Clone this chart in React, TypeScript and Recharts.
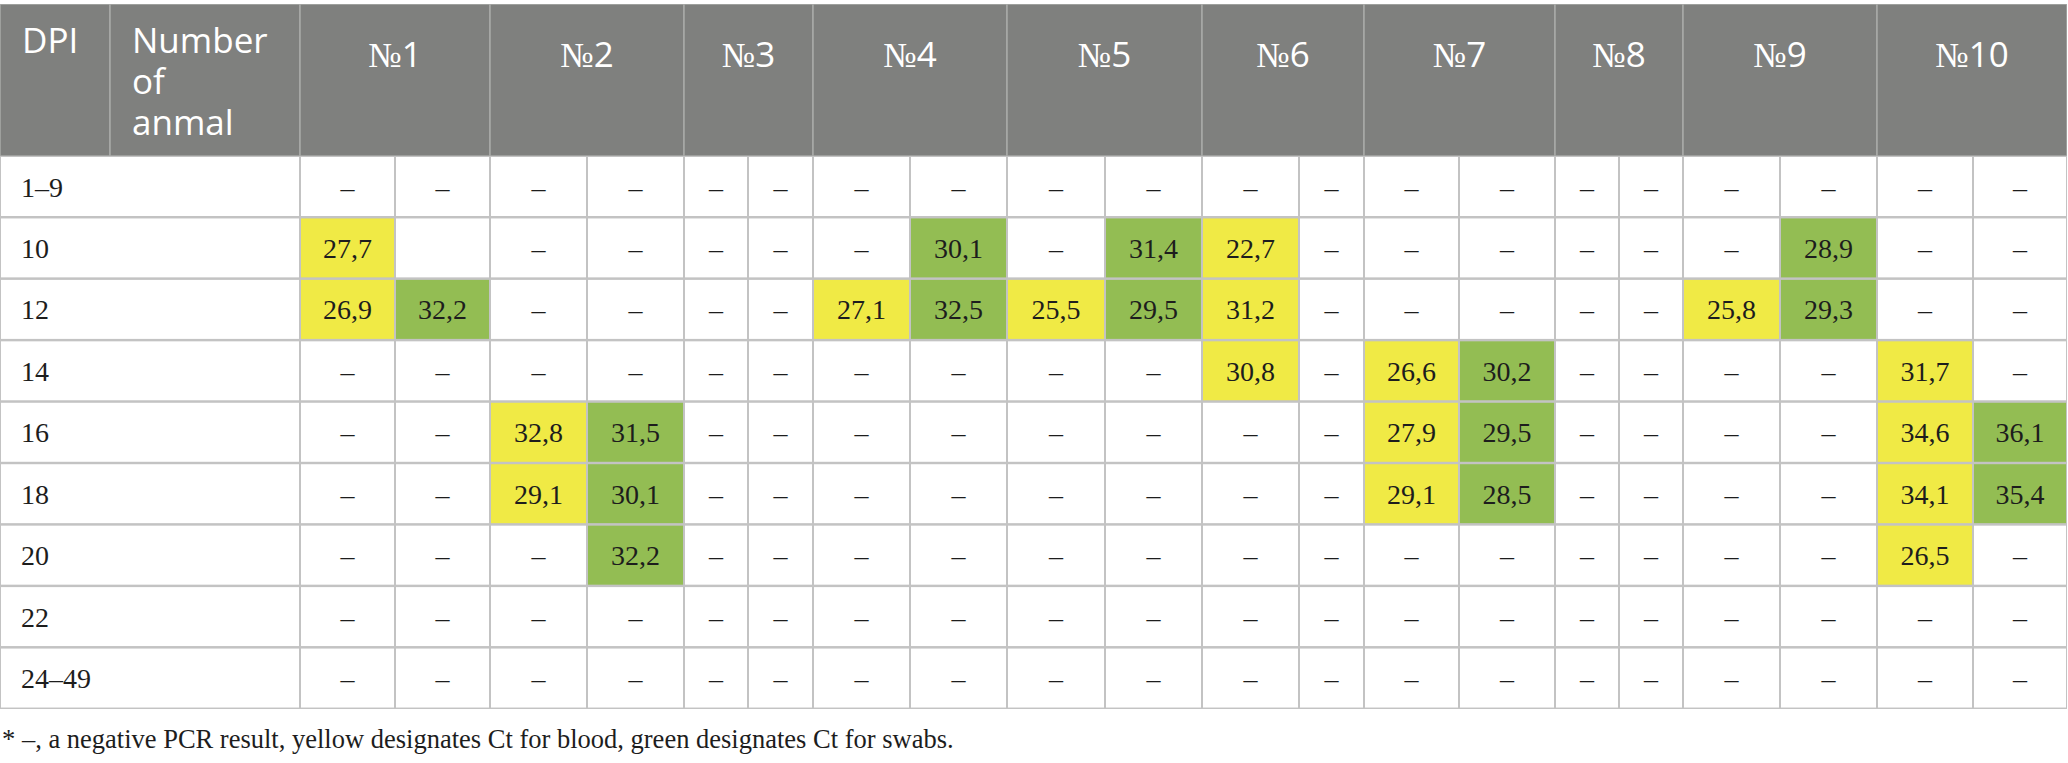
import { BarChart, Bar, XAxis, YAxis } from "recharts";

// rows (days post infection)
const DPI = ["1–9", "10", "12", "14", "16", "18", "20", "22", "24–49"];
const ANIMALS = ["1", "2", "3", "4", "5", "6", "7", "8", "9", "10"];
const HEAD_DPI = "DPI";
const HEAD_ANIMAL = ["Number", "of", "anmal"];
const FOOTNOTE =
  "* –, a negative PCR result, yellow designates Ct for blood, green designates Ct for swabs.";

// Ct values per animal, one entry per DPI row. null = negative (–), undefined = empty cell
const N = null;
const E = undefined;
const BLOOD_1 = [N, 27.7, 26.9, N, N, N, N, N, N];
const SWAB_1 = [N, E, 32.2, N, N, N, N, N, N];
const BLOOD_2 = [N, N, N, N, 32.8, 29.1, N, N, N];
const SWAB_2 = [N, N, N, N, 31.5, 30.1, 32.2, N, N];
const BLOOD_3 = [N, N, N, N, N, N, N, N, N];
const SWAB_3 = [N, N, N, N, N, N, N, N, N];
const BLOOD_4 = [N, N, 27.1, N, N, N, N, N, N];
const SWAB_4 = [N, 30.1, 32.5, N, N, N, N, N, N];
const BLOOD_5 = [N, N, 25.5, N, N, N, N, N, N];
const SWAB_5 = [N, 31.4, 29.5, N, N, N, N, N, N];
const BLOOD_6 = [N, 22.7, 31.2, 30.8, N, N, N, N, N];
const SWAB_6 = [N, N, N, N, N, N, N, N, N];
const BLOOD_7 = [N, N, N, 26.6, 27.9, 29.1, N, N, N];
const SWAB_7 = [N, N, N, 30.2, 29.5, 28.5, N, N, N];
const BLOOD_8 = [N, N, N, N, N, N, N, N, N];
const SWAB_8 = [N, N, N, N, N, N, N, N, N];
const BLOOD_9 = [N, N, 25.8, N, N, N, N, N, N];
const SWAB_9 = [N, 28.9, 29.3, N, N, N, N, N, N];
const BLOOD_10 = [N, N, N, 31.7, 34.6, 34.1, 26.5, N, N];
const SWAB_10 = [N, N, N, N, 36.1, 35.4, N, N, N];

const BLOOD = [BLOOD_1, BLOOD_2, BLOOD_3, BLOOD_4, BLOOD_5, BLOOD_6, BLOOD_7, BLOOD_8, BLOOD_9, BLOOD_10];
const SWAB = [SWAB_1, SWAB_2, SWAB_3, SWAB_4, SWAB_5, SWAB_6, SWAB_7, SWAB_8, SWAB_9, SWAB_10];

// layout (widths in px units on the x scale)
const DPI_W = 110;
const NUM_W = 190;
const SUB_W = [
  [95, 95], [97, 97], [64, 65], [97, 97], [98, 97],
  [97, 65], [95, 96], [64, 64], [97, 97], [96, 94],
];
const TOTAL = DPI_W + NUM_W + SUB_W.flat().reduce((a, b) => a + b, 0);

const HEADER_BG = "#7f807e";
const HEADER_LINE = "#a9aaa8";
const GRID = "#c3c3c3";
const YELLOW = "#f0ea45";
const GREEN = "#93bd53";
const TEXT = "#1d1d1d";
const SERIF = "'Liberation Serif', 'Times New Roman', serif";
const SANS = "'Open Sans', 'Noto Sans', sans-serif";

const fmt = (v: number | null | undefined) =>
  v === undefined ? "" : v === null ? "–" : v.toFixed(1).replace(".", ",");

// header: one category, segments = merged header cells
const headerRow: Record<string, number | string> = { name: "head", dpi: DPI_W, num: NUM_W };
ANIMALS.forEach((_, i) => {
  headerRow[`a${i}`] = SUB_W[i][0] + SUB_W[i][1];
});

// body: one category per DPI row, 1 label segment + 20 cell segments
const bodyRows = DPI.map((d) => {
  const row: Record<string, number | string> = { dpi: d, label: DPI_W + NUM_W };
  ANIMALS.forEach((_, i) => {
    row[`b${i}`] = SUB_W[i][0];
    row[`s${i}`] = SUB_W[i][1];
  });
  return row;
});

function HeaderCell(props: any, kind: string) {
  const { x, y, width, height } = props;
  let content = null;
  if (kind === "dpi") {
    content = (
      <text x={x + 22} y={y + 49} fill="#fff" fontFamily={SANS} fontSize={35}>
        {HEAD_DPI}
      </text>
    );
  } else if (kind === "num") {
    content = (
      <g>
        {HEAD_ANIMAL.map((t, i) => (
          <text key={i} x={x + 22} y={y + 49 + i * 41} fill="#fff" fontFamily={SANS} fontSize={35}>
            {t}
          </text>
        ))}
      </g>
    );
  } else {
    const idx = Number(kind);
    content = (
      <text x={x + width / 2} y={y + 63} fill="#fff" fontSize={35} textAnchor="middle">
        <tspan fontFamily={SERIF}>№</tspan>
        <tspan fontFamily={SANS}>{ANIMALS[idx]}</tspan>
      </text>
    );
  }
  return (
    <g>
      <rect x={x} y={y} width={width} height={height} fill={HEADER_BG} stroke={HEADER_LINE} strokeWidth={1.5} />
      {content}
    </g>
  );
}

function BodyCell(props: any, animal: number, swab: boolean) {
  const { x, y, width, height, index } = props;
  const v = (swab ? SWAB : BLOOD)[animal][index];
  const fill = typeof v === "number" ? (swab ? GREEN : YELLOW) : "#ffffff";
  return (
    <g>
      <rect x={x} y={y} width={width} height={height} fill={fill} stroke={GRID} strokeWidth={2} />
      <text
        x={x + width / 2}
        y={y + height / 2 + 10}
        fill={TEXT}
        fontFamily={SERIF}
        fontSize={28}
        textAnchor="middle"
      >
        {fmt(v)}
      </text>
    </g>
  );
}

function LabelCell(props: any) {
  const { x, y, width, height, payload } = props;
  return (
    <g>
      <rect x={x} y={y} width={width} height={height} fill="#fff" stroke={GRID} strokeWidth={2} />
      <text x={x + 21} y={y + height / 2 + 10} fill={TEXT} fontFamily={SERIF} fontSize={28}>
        {payload.dpi}
      </text>
    </g>
  );
}

export default function App() {
  return (
    <div style={{ position: "absolute", left: 0, top: 0, width: 2068, height: 763, background: "#fff" }}>
      <div style={{ position: "absolute", left: 0, top: 4 }}>
        <BarChart
          layout="vertical"
          width={2068}
          height={152}
          data={[headerRow]}
          margin={{ top: 0, right: 1, bottom: 0, left: 0 }}
          barCategoryGap={0}
        >
          <XAxis type="number" hide domain={[0, TOTAL]} allowDataOverflow />
          <YAxis type="category" dataKey="name" hide />
          <Bar dataKey="dpi" stackId="h" isAnimationActive={false} shape={(p: any) => HeaderCell(p, "dpi")} />
          <Bar dataKey="num" stackId="h" isAnimationActive={false} shape={(p: any) => HeaderCell(p, "num")} />
          {ANIMALS.map((_, i) => (
            <Bar
              key={i}
              dataKey={`a${i}`}
              stackId="h"
              isAnimationActive={false}
              shape={(p: any) => HeaderCell(p, String(i))}
            />
          ))}
        </BarChart>
      </div>
      <div style={{ position: "absolute", left: 0, top: 156 }}>
        <BarChart
          layout="vertical"
          width={2068}
          height={553}
          data={bodyRows}
          margin={{ top: 0, right: 1, bottom: 0, left: 0 }}
          barCategoryGap={0}
        >
          <XAxis type="number" hide domain={[0, TOTAL]} allowDataOverflow />
          <YAxis type="category" dataKey="dpi" hide />
          <Bar dataKey="label" stackId="r" isAnimationActive={false} shape={(p: any) => LabelCell(p)} />
          {ANIMALS.flatMap((_, i) => [
            <Bar
              key={`b${i}`}
              dataKey={`b${i}`}
              stackId="r"
              isAnimationActive={false}
              shape={(p: any) => BodyCell(p, i, false)}
            />,
            <Bar
              key={`s${i}`}
              dataKey={`s${i}`}
              stackId="r"
              isAnimationActive={false}
              shape={(p: any) => BodyCell(p, i, true)}
            />,
          ])}
        </BarChart>
      </div>
      <div
        style={{
          position: "absolute",
          left: 2,
          top: 726,
          fontFamily: SERIF,
          fontSize: 26.5,
          lineHeight: "26.5px",
          color: TEXT,
          whiteSpace: "nowrap",
        }}
      >
        {FOOTNOTE}
      </div>
    </div>
  );
}
